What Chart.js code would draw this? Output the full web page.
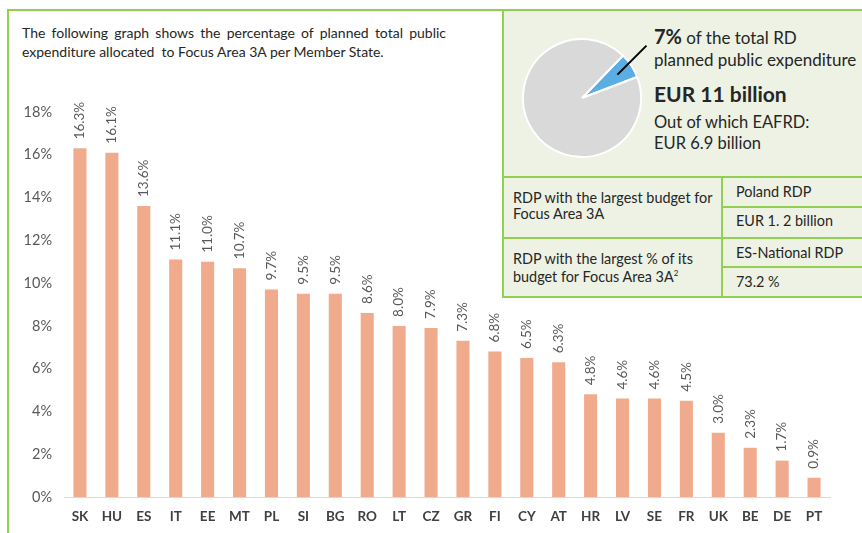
<!DOCTYPE html>
<html>
<head>
<meta charset="utf-8">
<script src="https://cdn.jsdelivr.net/npm/chart.js@4"></script>
<style>
  body { margin: 0; width: 862px; height: 533px; overflow: hidden; background: #fff; font-family: Lato, "Open Sans", sans-serif; color: #262626; position: relative; }
  .ln { position: absolute; background: #92d050; }
  .txt { position: absolute; white-space: nowrap; line-height: 1.2; }
  .tb { position: absolute; white-space: nowrap; font-size: 14.4px; line-height: 17px; }
  #intro { position: absolute; left: 22px; top: 23px; width: 424px; font-size: 14px; line-height: 19px; text-align: justify; text-align-last: left; white-space: normal; color: #262626; }
  #panel { position: absolute; left: 503px; top: 9px; width: 359px; height: 289px; background: #edf2e4; }
  #barWrap { position: absolute; left: 10px; top: 90px; width: 840px; height: 443px; }
  #pieWrap { position: absolute; left: 520px; top: 33px; width: 150px; height: 130px; }
  sup { font-size: 8px; line-height: 0; vertical-align: 6px; }
</style>
</head>
<body>
<div id="panel"></div>
<div class="ln" style="left:7px;top:9px;width:2px;height:524px"></div>
<div class="ln" style="left:7px;top:9px;width:855px;height:2px"></div>
<div class="ln" style="left:502px;top:9px;width:2px;height:289px"></div>
<div class="ln" style="left:502px;top:176px;width:360px;height:2px"></div>
<div class="ln" style="left:502px;top:237px;width:360px;height:2px"></div>
<div class="ln" style="left:502px;top:296px;width:360px;height:2px"></div>
<div class="ln" style="left:721px;top:176px;width:2px;height:122px"></div>
<div class="ln" style="left:721px;top:206px;width:141px;height:2px"></div>
<div class="ln" style="left:721px;top:266px;width:141px;height:2px"></div>

<div id="intro">The following graph shows the percentage of planned total public expenditure allocated&nbsp; to Focus Area 3A per Member State.</div>

<div class="txt" style="left:654px;top:24px;font-size:17px;"><b style="font-size:20px">7%</b> of the total RD</div>
<div class="txt" style="left:654px;top:50px;font-size:17px;">planned public expenditure</div>
<div class="txt" style="left:654px;top:81px;font-size:21px;font-weight:bold;">EUR 11 billion</div>
<div class="txt" style="left:654px;top:113px;font-size:16.5px;">Out of which EAFRD:</div>
<div class="txt" style="left:654px;top:134px;font-size:16.5px;">EUR 6.9 billion</div>

<div class="tb" style="left:513px;top:190px;line-height:16px;">RDP with the largest budget for<br>Focus Area 3A</div>
<div class="tb" style="left:513px;top:250px;line-height:18px;">RDP with the largest % of its<br>budget for Focus Area 3A<sup>2</sup></div>
<div class="tb" style="left:736px;top:183px;">Poland RDP</div>
<div class="tb" style="left:736px;top:212px;">EUR 1. 2 billion</div>
<div class="tb" style="left:736px;top:244px;">ES-National RDP</div>
<div class="tb" style="left:736px;top:273px;">73.2 %</div>

<div id="pieWrap"><canvas id="pieChart" width="150" height="130"></canvas></div>
<div id="barWrap"><canvas id="shareChart" width="840" height="443"></canvas></div>

<script>
var countries = ['SK', 'HU', 'ES', 'IT', 'EE', 'MT', 'PL', 'SI', 'BG', 'RO', 'LT', 'CZ',
                 'GR', 'FI', 'CY', 'AT', 'HR', 'LV', 'SE', 'FR', 'UK', 'BE', 'DE', 'PT'];
var shares = [16.3, 16.1, 13.6, 11.1, 11.0, 10.7, 9.7, 9.5, 9.5, 8.6, 8.0, 7.9,
              7.3, 6.8, 6.5, 6.3, 4.8, 4.6, 4.6, 4.5, 3.0, 2.3, 1.7, 0.9];
var yMax = 18;
var yStep = 2;

var pieLabels = ['Focus Area 3A', 'Other'];
var pieShares = [7, 93];

// value labels above each bar, rotated
var barLabels = {
    id: 'barLabels',
    afterDatasetsDraw: function(chart) {
        var ctx = chart.ctx;
        var meta = chart.getDatasetMeta(0);
        ctx.save();
        ctx.font = '13.5px Lato';
        ctx.fillStyle = '#595959';
        ctx.textAlign = 'left';
        ctx.textBaseline = 'middle';
        meta.data.forEach(function(bar, i) {
            ctx.save();
            ctx.translate(bar.x, bar.y - 9);
            ctx.rotate(-Math.PI / 2);
            ctx.fillText(shares[i].toFixed(1) + '%', 0, 0);
            ctx.restore();
        });
        ctx.restore();
    }
};

var ctx = document.getElementById('shareChart').getContext('2d');
var shareChart = new Chart(ctx, {
    type: 'bar',
    data: {
        labels: countries,
        datasets: [{
            data: shares,
            backgroundColor: '#f0ab8c',
            barPercentage: 0.41,
            categoryPercentage: 1
        }]
    },
    options: {
        responsive: false,
        animation: false,
        layout: { padding: { top: 22, right: 20, left: 0, bottom: 0 } },
        plugins: { legend: { display: false }, tooltip: { enabled: false } },
        scales: {
            x: {
                grid: { display: false, drawTicks: false },
                border: { display: true, color: '#d9d9d9', width: 1 },
                ticks: { color: '#404040', font: { family: 'Lato', size: 13.5, weight: 'bold' }, padding: 12, maxRotation: 0, autoSkip: false },
                afterFit: function(s) { s.height = 36; }
            },
            y: {
                min: 0,
                max: yMax,
                ticks: {
                    stepSize: yStep,
                    color: '#595959',
                    font: { family: 'Lato', size: 14.5 },
                    padding: 12,
                    callback: function(v) { return v + '%'; }
                },
                grid: { display: false, drawTicks: false },
                border: { display: false },
                afterFit: function(s) { s.width = 54; }
            }
        }
    },
    plugins: [barLabels]
});

// leader line from the small slice to the text
var leader = {
    id: 'leader',
    afterDraw: function(chart) {
        var arc = chart.getDatasetMeta(0).data[0];
        var mid = (arc.startAngle + arc.endAngle) / 2;
        var r = arc.outerRadius * 0.72;
        var x0 = arc.x + Math.cos(mid) * r;
        var y0 = arc.y + Math.sin(mid) * r;
        var c = chart.ctx;
        c.save();
        c.strokeStyle = '#000';
        c.lineWidth = 2;
        c.beginPath();
        c.moveTo(x0, y0);
        c.lineTo(x0 + 29, y0 - 29);
        c.stroke();
        c.restore();
    }
};

var pieChart = new Chart(document.getElementById('pieChart').getContext('2d'), {
    type: 'pie',
    data: {
        labels: pieLabels,
        datasets: [{
            data: pieShares,
            backgroundColor: ['#5aaee4', '#d9d9d9'],
            borderColor: '#ffffff',
            borderWidth: 2
        }]
    },
    options: {
        responsive: false,
        animation: false,
        rotation: 44,
        layout: { padding: { left: 2, right: 28, top: 4, bottom: 4 } },
        plugins: { legend: { display: false }, tooltip: { enabled: false } }
    },
    plugins: [leader]
});
</script>
</body>
</html>
